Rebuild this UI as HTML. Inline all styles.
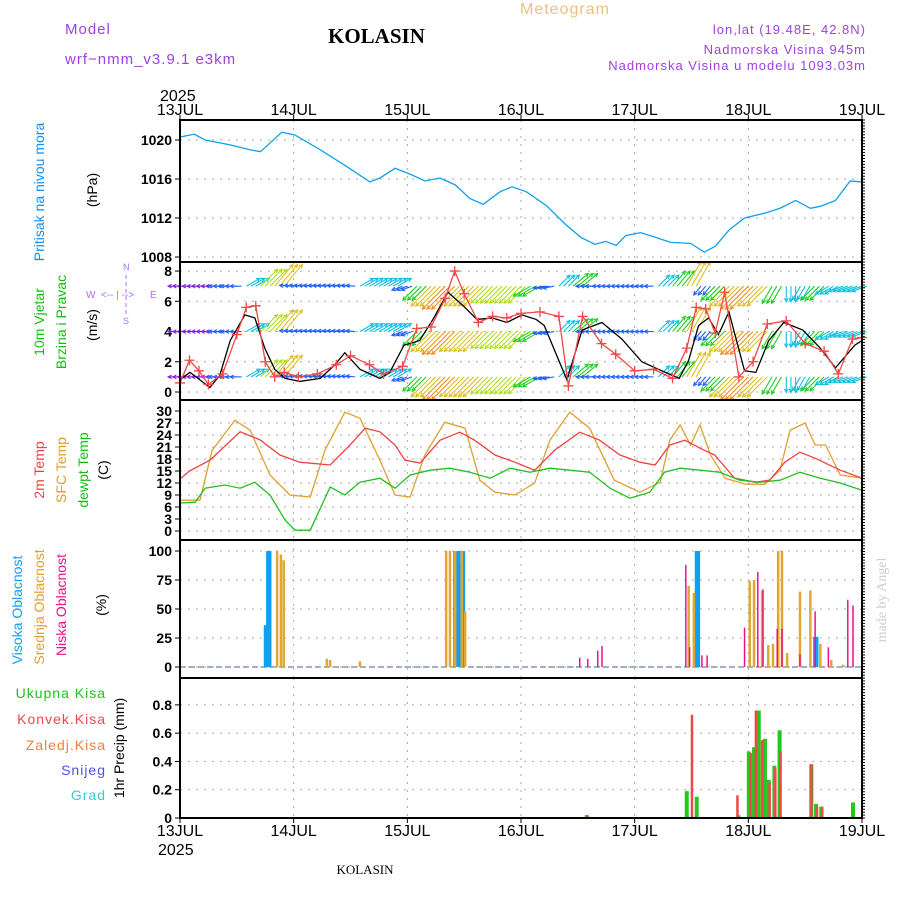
<!DOCTYPE html>
<html><head><meta charset="utf-8"><style>
html,body{margin:0;padding:0;background:#fff}
svg{display:block;font-family:"Liberation Sans",sans-serif}
.t{font-size:14px;fill:#000}
.tk{font-size:14px;font-weight:bold;fill:#000;text-anchor:end}
</style></head><body>
<svg id="c" width="900" height="900" viewBox="0 0 900 900" xmlns="http://www.w3.org/2000/svg">
<text x="65" y="34" font-size="15" fill="#a040e0" letter-spacing="1">Model</text>
<text x="65" y="64" font-size="15" fill="#a040e0" letter-spacing="1">wrf−nmm_v3.9.1  e3km</text>
<text x="328" y="43" font-size="21" font-weight="bold" font-family="Liberation Serif,serif" fill="#000">KOLASIN</text>
<text x="520" y="14" font-size="16" fill="#f0c080" letter-spacing="1">Meteogram</text>
<text x="866" y="34" font-size="13" fill="#a040e0" text-anchor="end" letter-spacing="1">lon,lat (19.48E, 42.8N)</text>
<text x="866" y="54" font-size="13" fill="#a040e0" text-anchor="end" letter-spacing="1">Nadmorska Visina 945m</text>
<text x="866" y="70" font-size="13" fill="#a040e0" text-anchor="end" letter-spacing="1">Nadmorska Visina u modelu 1093.03m</text>
<text x="160" y="101" font-size="16" fill="#000">2025</text>
<text x="158" y="855" font-size="16" fill="#000">2025</text>
<text x="365" y="874" font-size="13" font-family="Liberation Serif,serif" fill="#000" text-anchor="middle">KOLASIN</text>
<text transform="translate(886,600) rotate(-90)" font-size="14" font-family="Liberation Serif,serif" fill="#ccc" text-anchor="middle">made by Angel</text>

<g font-size="14" text-anchor="middle">
<text transform="translate(44,192) rotate(-90)" fill="#1090f0">Pritisak na nivou mora</text>
<text transform="translate(97,190) rotate(-90)" fill="#000">(hPa)</text>
<text transform="translate(44,322) rotate(-90)" fill="#10c010">10m Vjetar</text>
<text transform="translate(66,322) rotate(-90)" fill="#10c010">Brzina i Pravac</text>
<text transform="translate(97,325) rotate(-90)" fill="#000">(m/s)</text>
<text transform="translate(44,470) rotate(-90)" fill="#f04040">2m Temp</text>
<text transform="translate(66,470) rotate(-90)" fill="#e0a020">SFC Temp</text>
<text transform="translate(88,470) rotate(-90)" fill="#10c010">dewpt Temp</text>
<text transform="translate(108,470) rotate(-90)" fill="#000">(C)</text>
<text transform="translate(22,610) rotate(-90)" fill="#10a0f0">Visoka Oblacnost</text>
<text transform="translate(44,607) rotate(-90)" fill="#e0a030">Srednja Oblacnost</text>
<text transform="translate(66,605) rotate(-90)" fill="#f0108a">Niska Oblacnost</text>
<text transform="translate(106,605) rotate(-90)" fill="#000">(%)</text>
<text transform="translate(124,748) rotate(-90)" fill="#000">1hr Precip (mm)</text>
</g>
<g font-size="14" text-anchor="end" letter-spacing="1">
<text x="106" y="698" fill="#20c020">Ukupna Kisa</text>
<text x="106" y="724" fill="#f04848">Konvek.Kisa</text>
<text x="106" y="750" fill="#f08040">Zaledj.Kisa</text>
<text x="106" y="775" fill="#5050f0">Snijeg</text>
<text x="106" y="800" fill="#30d0d0">Grad</text>
</g>
<g fill="#b070f0" font-size="10">
<text x="86" y="298">W</text><text x="150" y="298">E</text>
<text x="123" y="270" font-size="9">N</text><text x="123" y="324" font-size="9">S</text>
<text x="101" y="298">&lt;-- | --&gt;</text>
<line x1="126" y1="275" x2="126" y2="316" stroke="#b070f0" stroke-dasharray="4,3"/>
</g>
<g id="plot"></g>
</svg>
<script>
// ---- data ----
const dayLabels=["13JUL","14JUL","15JUL","16JUL","17JUL","18JUL","19JUL"];
const pressTicks=[1008,1012,1016,1020];
const windTicks=[0,2,4,6,8];
const tempTicks=[0,3,6,9,12,15,18,21,24,27,30];
const cloudTicks=[0,25,50,75,100];
const precipTicks=[0,0.2,0.4,0.6,0.8];
const pHours=[0,3,5.3,10.6,14.8,17,21.5,24.3,29.6,34.8,40.1,42.2,45.4,48.6,51.7,54.9,58.1,61.2,64,67.6,70.1,73.1,77.3,81.5,84.7,87.6,89.9,92.1,94.1,97.3,100.5,103.6,107.8,110.7,113,116,119.2,123.5,126.7,130,133.1,135.2,138.4,141.5,144];
const pVals=[1020.3,1020.6,1020,1019.5,1019,1018.8,1020.8,1020.5,1019,1017.4,1015.7,1016.1,1017.1,1016.5,1015.8,1016.1,1015.4,1014,1013.4,1014.7,1015.2,1014.7,1013.3,1011.3,1010,1009.3,1009.6,1009.2,1010.2,1010.5,1010,1009.5,1009.4,1008.5,1009.1,1010.8,1012,1012.5,1013,1013.8,1013,1013.2,1013.8,1015.8,1015.7];
const wHours=[0,2.1,4.2,6.3,8.4,10.6,13.7,15.8,17.9,20,22.2,25.3,29.6,32.7,34.8,38,42.2,44.3,47.3,50.6,53.4,56.6,59.8,62.7,65.9,69,72.2,75.2,76.9,81.7,84.9,89.1,93.3,97.5,100.3,105.4,107.4,109.5,111.6,113.7,115.9,119.2,121.6,124.3,127.5,131.5,135.2,138.4,142.5,144];
const wSpd=[0.8,1.3,0.8,0.3,1.1,3.4,5.1,4.9,2.9,1.5,0.9,0.7,0.9,1.8,2.6,1.5,0.9,1.3,3.1,3.4,4.8,6.6,5.7,4.8,4.9,4.6,5.1,4.8,4.4,0.8,4.1,4.6,3.5,2.0,1.6,0.9,2.1,4.4,4.9,3.8,5.3,1.4,1.3,3.4,4.6,4.1,2.9,1.6,3.1,3.4];
const gHours=[0,2,4,6,9,12,14,16,18,20,22,25,29,33,36,40,43,47,50,53,56,58,60,63,66,69,72,76,80,82,85,89,92,96,100,104,107,109,111,113,115,118,121,124,128,132,136,139,142,144];
const gSpd=[0.6,2.1,1.4,0.5,1.2,3.8,5.6,5.7,2.0,1.0,1.3,1.0,1.2,1.8,2.4,1.8,1.2,1.7,4.2,4.3,6.2,8.0,6.5,4.6,5.0,4.9,5.2,5.3,5.0,0.4,5.0,3.2,2.5,1.4,1.5,0.9,2.9,5.6,5.5,3.9,6.6,1.0,2.0,4.5,4.7,3.2,2.7,1.2,3.5,3.6];
const arHours=[0,3,6,9,12,15,18,21,24,27,30,33,36,39,42,45,48,51,54,57,60,63,66,69,72,75,78,81,84,87,90,93,96,99,102,105,108,111,114,117,120,123,126,129,132,135,138,141,144];
const arDir=[180,180,180,180,180,30,45,50,175,175,175,175,175,30,30,30,200,225,225,225,225,225,225,225,225,210,190,45,40,180,180,180,180,180,45,50,60,230,225,225,225,225,240,270,240,225,210,200,200];
const arSpd=[1,1,1,1.5,2,3,5,6,1.5,1.5,1.5,1.5,1.5,3,3,3,2,4,6,7,6,6,5,5,5,4,2,3,4,2,1.5,1.5,1.5,1.5,3,4,6,2,4,6,7,6,4,3,3,4,3,3,3];
const t2Hours=[0,2,6.3,12.7,16.9,21.1,25.3,31.7,35.9,39.1,42.2,45.4,47.5,50.7,54.9,59.1,62.2,66.5,70.7,74.9,79.1,84.4,88.6,92.9,97.1,100.3,103.4,106.6,109.8,112.9,117.1,121.4,124.5,127.7,130.9,134.1,139.4,144];
const t2Vals=[13,15,17.7,24.8,22.8,19,17.2,16.5,21.5,25.7,24.8,21.5,17.7,17,22.7,24.7,22.7,19,17.2,15.2,20.2,24.7,22.7,19,17.2,16.5,21.5,22.7,20.7,19,13.2,12.2,12.7,17.2,19.7,18.2,15.2,13.2];
const sfHours=[0,4.2,6.8,11.6,14.8,19,23.2,27.5,30.6,34.8,38,42.2,45.4,48.6,51.7,55.9,60.2,63.3,66.5,70.7,74.9,78.1,82.3,86.5,91.7,97.1,101.4,103.4,105.6,107.8,109.8,112,115.1,119.4,123.5,126.7,128.8,132,134.1,136.3,139.4,144];
const sfVals=[7.7,7.7,20.2,27.7,25.2,14,9,8.5,20.2,29.7,28.2,17.7,9,8.5,19,27.2,25.7,12.7,9.7,9,12,22.7,29.7,25.7,12.7,9.7,12.2,22.7,26.5,21.5,26.5,19,13.2,11.7,11.7,15.2,25.2,27,21.5,21.5,14,13.2];
const dwHours=[0,3.2,5.3,9.5,12.7,15.8,19,22.2,24.3,27.5,31.7,34.8,38,42.2,45.4,48.6,52.8,57,61.2,65.5,69.7,73.9,78.1,82.3,86.5,90.8,95,99.2,102.3,105.6,109.8,114,118.2,122.4,126.7,130.9,135.2,139.4,144];
const dwVals=[7,7.2,10.7,11.5,10.7,12.2,9,2.7,0.2,0.2,11,9,12.2,13.2,10.7,14,15.2,15.7,14.7,13.2,15.7,14.7,15.7,15.2,14.7,10.7,8.2,9.7,14.7,15.7,15.2,14.7,12.7,12.2,12.7,14.7,13.2,12,10.2];
const hiHours=[18,18.5,19,58,58.4,58.9,59.4,59.9,109,109.5,134,134.5];
const hiVals=[36,100,100,100,100,100,90,100,100,100,26,26];
const midHours=[20.5,21.3,21.9,31,31.7,38,56.2,57,58.1,59.5,60.2,107.4,108.5,120.3,121.2,122.9,124.2,125.2,126.3,127.1,128.2,130.9,133.1,135.2,137.5,140];
const midVals=[100,97,92,7,6,5,100,100,100,100,48,70,64,74,75,66,19,20,100,100,12,65,66,20,6,2];
const lowHours=[84.4,86.1,88.2,89.1,106.8,107.6,110.2,111.3,119.2,122,123.1,126.1,127.1,130.9,134.1,136.9,141,142.1];
const lowVals=[8,7,14,18,88,17,10,10,34,82,67,33,33,11,48,17,58,53];
const totHours=[85.9,107,109.1,117.9,120.1,121.2,122.2,123.5,124.3,125.5,126.6,133.3,134.3,135.4,142.1];
const totVals=[0.02,0.19,0.15,0.02,0.47,0.5,0.76,0.56,0.27,0.37,0.62,0.38,0.1,0.08,0.11];
const cvHours=[85.9,108.1,117.7,120.5,121.6,122.9,124.5,125.7,126.8,133.3,134.5,135.6];
const cvVals=[0.02,0.73,0.16,0.46,0.76,0.55,0.25,0.35,0.47,0.38,0.08,0.08];

// ---- geometry ----
const X0=180,X1=862,NS="http://www.w3.org/2000/svg";
const P={press:[120,262,1007.49,1022.05],wind:[262,400,-0.53,8.6],temp:[400,540,-2.25,32.75],cloud:[540,678,-9.5,109.5],prec:[678,818,0,0.99]};
const xs=h=>X0+(X1-X0)*h/144;
const ys=(k,v)=>{const p=P[k];return p[1]-(v-p[2])/(p[3]-p[2])*(p[1]-p[0]);};
const g=document.getElementById('plot');
function mk(tag,attrs,parent){const e=document.createElementNS(NS,tag);for(const a in attrs)e.setAttribute(a,attrs[a]);(parent||g).appendChild(e);return e;}
function line(hs,vs,k,color,name){
  const e=mk('polyline',{points:hs.map((h,i)=>xs(h)+','+ys(k,vs[i])).join(' '),fill:'none',stroke:color,'stroke-width':1.3});
  
  
  return e;
}
function gridPanel(k,ticks,fmt){
  const p=P[k];
  ticks.forEach(t=>{
    const y=ys(k,t);
    const gl=mk('line',{x1:X0,x2:X1,y1:y,y2:y,stroke:'#aaa','stroke-dasharray':'2,6'});
    
    
    mk('line',{x1:X0-5,x2:X0,y1:y,y2:y,stroke:'#000'});
    const tx=mk('text',{x:X0-8,y:y+5,class:'tk'});tx.textContent=fmt(t);
    
    
  });
  for(let d=1;d<6;d++){const x=xs(d*24);
    const vl=mk('line',{x1:x,x2:x,y1:p[0],y2:p[1],stroke:'#aaa','stroke-dasharray':'2,6'});
    
    }
}
gridPanel('press',pressTicks,t=>t);
gridPanel('wind',windTicks,t=>t);
gridPanel('temp',tempTicks,t=>t);
gridPanel('cloud',cloudTicks,t=>t);
gridPanel('prec',precipTicks,t=>t===0?'0':t.toFixed(1));

// pressure
line(pHours,pVals,'press','#10a0f0','pressure-line');

// wind arrows bands
const cmap=s=>s<1.3?'#8020e0':s<2.5?'#2060ff':s<3.5?'#10c0e0':s<4.5?'#20d020':s<5.5?'#b0e020':s<6.5?'#e0c020':s<7.5?'#f09020':'#f03040';
[7,4,1].forEach(lv=>{
  arHours.forEach((h,i)=>{
    const s=arSpd[i],a=arDir[i]*Math.PI/180,L=3+s*4.2,c=cmap(s);
    for(let j=0;j<3;j++){
      const x=xs(h)+j*4.7-4.7,y=ys('wind',lv);
      const x2=x+L*Math.cos(a),y2=y-L*Math.sin(a);
      const ar=mk('line',{x1:x,y1:y,x2:x2,y2:y2,stroke:c,'stroke-width':1.1});
      
      
      const b1=a+Math.PI*0.85,b2=a-Math.PI*0.85;
      mk('polyline',{points:(x2+4*Math.cos(b1))+','+(y2-4*Math.sin(b1))+' '+x2+','+y2+' '+(x2+4*Math.cos(b2))+','+(y2-4*Math.sin(b2)),fill:'none',stroke:c,'stroke-width':1.1});
    }
  });
});
line(wHours,wSpd,'wind','#000','wind-speed-line');
line(gHours,gSpd,'wind','#f04848','wind-gust-line');
gHours.forEach((h,i)=>{const x=xs(h),y=ys('wind',gSpd[i]);
  const cr=mk('path',{d:`M${x-5},${y}H${x+5}M${x},${y-5}V${y+5}`,stroke:'#f04848','stroke-width':1.3});
  
  });

// temps
line(sfHours,sfVals,'temp','#e0a030','sfc-temp-line');
line(t2Hours,t2Vals,'temp','#f04040','2m-temp-line');
line(dwHours,dwVals,'temp','#20c020','dewpt-line');

// clouds
mk('line',{x1:X0,x2:X1,y1:ys('cloud',0),y2:ys('cloud',0),stroke:'#a0b0d0','stroke-width':2,'stroke-dasharray':'6,3'});
function bars(hs,vs,k,color,w,name){hs.forEach((h,i)=>{const y=ys(k,vs[i]),y0=ys(k,0);
  const b=mk('rect',{x:xs(h)-w/2,y:y,width:w,height:Math.max(0,y0-y),fill:color});
  
  });}
bars(hiHours,hiVals,'cloud','#10a0f0',3,'high-cloud-bar');
bars(midHours,midVals,'cloud','#e0a830',2.5,'mid-cloud-bar');
bars(lowHours,lowVals,'cloud','#f0108a',1.5,'low-cloud-bar');
bars(totHours,totVals,'prec','#20c820',4,'total-precip-bar');
bars(cvHours,cvVals,'prec','#f04848',2.5,'convective-precip-bar');

// panel frames & day labels
Object.keys(P).forEach(k=>{const p=P[k];
  const r=mk('rect',{x:X0,y:p[0],width:X1-X0,height:p[1]-p[0],fill:'none',stroke:'#000','stroke-width':2});
  
  
  for(let h=0;h<=144;h+=3){mk('line',{x1:X1,x2:X1+3,y1:p[0]+(h/144)*(p[1]-p[0]),y2:p[0]+(h/144)*(p[1]-p[0]),stroke:'#000'});}
});
dayLabels.forEach((d,i)=>{const x=xs(i*24);
  [115,836].forEach(y=>{const t=mk('text',{x:x,y:y,'text-anchor':'middle','font-size':16});t.textContent=d;
    
    });
  mk('line',{x1:x,x2:x,y1:818,y2:823,stroke:'#000'});mk('line',{x1:x,x2:x,y1:115,y2:120,stroke:'#000'});
});
</script>
</body></html>
